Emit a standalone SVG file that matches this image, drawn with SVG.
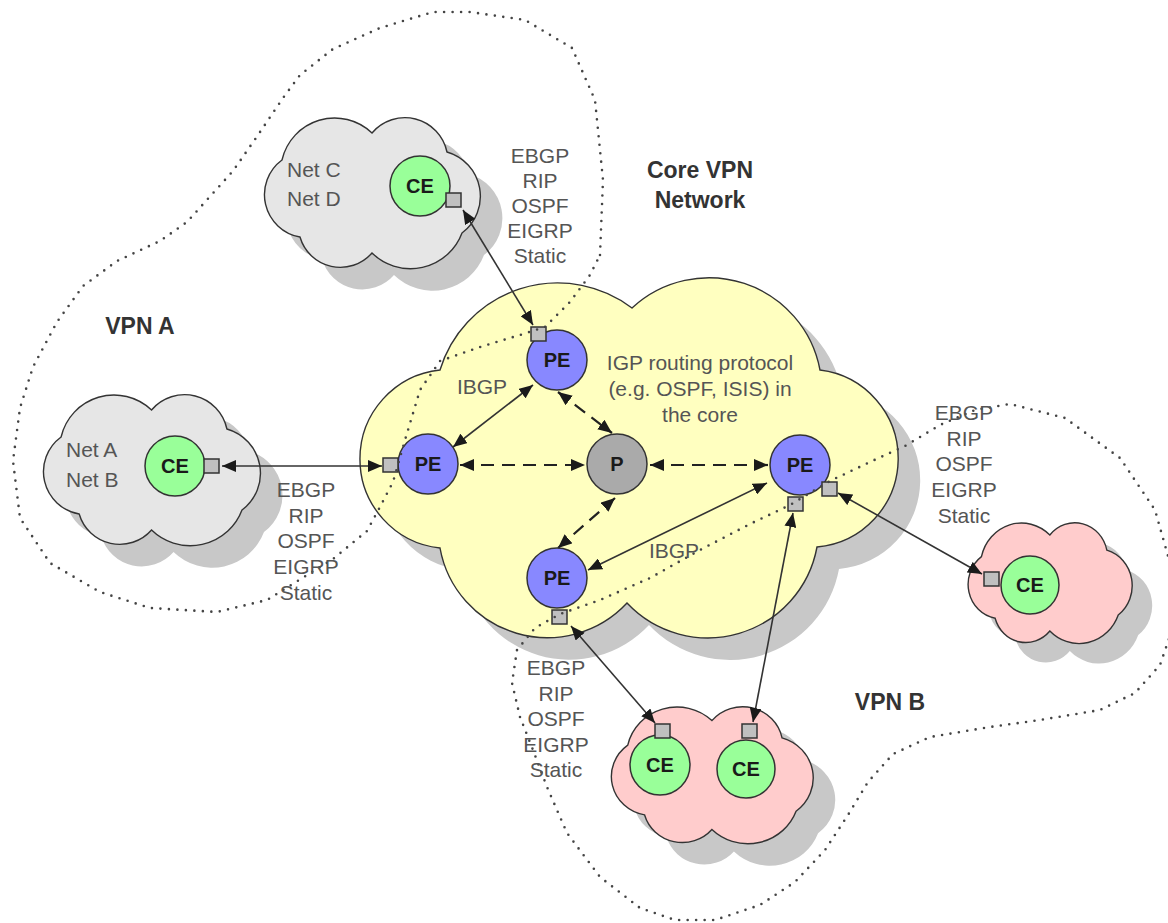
<svg xmlns="http://www.w3.org/2000/svg" xmlns:xlink="http://www.w3.org/1999/xlink" width="1168" height="923" viewBox="0 0 1168 923">
<style>
.shadow{fill:#c8c8c8;stroke:none}
.gray{fill:#e6e6e6;stroke:#333;stroke-width:1.4}
.pink{fill:#ffcccc;stroke:#333;stroke-width:1.4}
.yellow{fill:#ffffc0;stroke:#333;stroke-width:1.4}
.dot{fill:none;stroke:#444;stroke-width:2.6;stroke-linecap:round;stroke-linejoin:round;stroke-dasharray:0 8.5}
.ln{fill:none;stroke:#333;stroke-width:1.6;marker-start:url(#arr);marker-end:url(#arr)}
.dash{fill:none;stroke:#222;stroke-width:2.2;stroke-dasharray:13 8;marker-start:url(#arr);marker-end:url(#arr)}
.ce{fill:#99ff99;stroke:#333;stroke-width:1.5}
.pe{fill:#8888ff;stroke:#333;stroke-width:1.5}
.p{fill:#aaaaaa;stroke:#333;stroke-width:1.5}
.port{fill:#c0c0c0;stroke:#333;stroke-width:1.5}
.nl{font-family:"Liberation Sans",Arial,sans-serif;font-weight:bold;font-size:20px;fill:#1a1a1a;text-anchor:middle}
.lbl{font-family:"Liberation Sans",Arial,sans-serif;font-size:21px;fill:#555;text-anchor:middle}
.lbs{font-family:"Liberation Sans",Arial,sans-serif;font-size:21px;fill:#555}
.hd{font-family:"Liberation Sans",Arial,sans-serif;font-weight:bold;font-size:23px;fill:#333;text-anchor:middle}
</style>
<defs>
<path id="cloud" vector-effect="non-scaling-stroke" d="M19 42 A54 54 0 0 1 109 15 A43 43 0 0 1 184 34 A46 46 0 0 1 199 115 A55 55 0 0 1 109 135 A42 42 0 0 1 37 119 A43 43 0 0 1 19 42 Z"/>
<path id="core" d="M440 548 A89.5 89.5 0 0 1 440 370 A123 123 0 0 1 632 308 A113 113 0 0 1 820 370 A89 89 0 0 1 817 547 A111 111 0 0 1 627 603 A109 109 0 0 1 440 548 Z"/>
<marker id="arr" viewBox="0 0 14 12" refX="14" refY="6" markerWidth="14" markerHeight="12" markerUnits="userSpaceOnUse" orient="auto-start-reverse">
<path d="M0,0 L14,6 L0,12 z" fill="#1a1a1a"/>
</marker>
</defs>
<rect width="1168" height="923" fill="#ffffff"/>

<g id="clouds">
<use xlink:href="#cloud" class="shadow" transform="translate(285,140)"/>
<use xlink:href="#cloud" class="shadow" transform="translate(64,417) scale(1.005,1)"/>
<use xlink:href="#cloud" class="shadow" transform="translate(987,543) scale(0.76,0.8)"/>
<use xlink:href="#cloud" class="shadow" transform="translate(632,729) scale(0.935,0.907)"/>
<use xlink:href="#core" class="shadow" transform="translate(22,22)"/>
<use xlink:href="#cloud" class="gray" transform="translate(263,118)"/>
<use xlink:href="#cloud" class="gray" transform="translate(42,395) scale(1.005,1)"/>
<use xlink:href="#cloud" class="pink" transform="translate(967,523) scale(0.76,0.8)"/>
<use xlink:href="#cloud" class="pink" transform="translate(610,707) scale(0.935,0.907)"/>
<use xlink:href="#core" class="yellow"/>
</g>

<g id="connectors">
<path class="ln" d="M463,210 L533,325"/>
<path class="ln" d="M222,466 L382,466"/>
<path class="ln" d="M533,385 L453,447"/>
<path class="dash" d="M558,392 L612,433"/>
<path class="dash" d="M460,465 L585,465"/>
<path class="dash" d="M650,465 L768,465"/>
<path class="dash" d="M615,498 L558,548"/>
<path class="ln" d="M588,570 L767,483"/>
<path class="ln" d="M571,626 L655,723"/>
<path class="ln" d="M793,513 L753,722"/>
<path class="ln" d="M838,493 L982,574"/>
</g>

<g id="pe-top"><circle class="pe" cx="557" cy="360" r="30"/><rect class="port" x="531" y="327" width="15" height="14"/><text class="nl" x="557" y="367">PE</text></g>
<g id="pe-left"><circle class="pe" cx="428" cy="464" r="30"/><rect class="port" x="383" y="458" width="15" height="14"/><text class="nl" x="428" y="471">PE</text></g>
<g id="p-core"><circle class="p" cx="617" cy="464" r="30"/><text class="nl" x="617" y="471">P</text></g>
<g id="pe-right"><circle class="pe" cx="800" cy="465" r="30"/><rect class="port" x="788" y="497" width="15" height="14"/><rect class="port" x="822" y="482" width="15" height="14"/><text class="nl" x="800" y="472">PE</text></g>
<g id="pe-bottom"><circle class="pe" cx="557" cy="578" r="30"/><rect class="port" x="552" y="610" width="15" height="14"/><text class="nl" x="557" y="585">PE</text></g>
<g id="ce-top"><circle class="ce" cx="420" cy="186" r="30"/><rect class="port" x="446" y="193" width="15" height="14"/><text class="nl" x="420" y="193">CE</text></g>
<g id="ce-left"><circle class="ce" cx="175" cy="466" r="30"/><rect class="port" x="204" y="459" width="15" height="14"/><text class="nl" x="175" y="473">CE</text></g>
<g id="ce-right"><circle class="ce" cx="1030" cy="585" r="29"/><rect class="port" x="984" y="572" width="15" height="14"/><text class="nl" x="1030" y="592">CE</text></g>
<g id="ce-bottom-left"><circle class="ce" cx="660" cy="765" r="30"/><rect class="port" x="655" y="724" width="15" height="14"/><text class="nl" x="660" y="772">CE</text></g>
<g id="ce-bottom-right"><circle class="ce" cx="746" cy="769" r="29"/><rect class="port" x="742" y="724" width="15" height="14"/><text class="nl" x="746" y="776">CE</text></g>

<g id="vpn-boundaries">
<path id="vpn-a" class="dot" d="M600,255 L603,180 L595,100 L572,48 L525,20 L470,12 L433,12 L380,28 L333,49 L300,75 L283,98 L258,135 L233,171 L187,222 L160,241 L117,261 L83,286 L57,322 L33,367 L20,408 L13,461 L20,518 L50,563 L100,592 L150,608 L217,612 L267,600 L333,559 L367,531 L380,507 L393,482 L405,440 L420,390 L440,361 L480,347 L520,335 L545,327 L570,302 L590,275 Z"/>
<path id="vpn-b" class="dot" d="M517,650 L535,628 L560,614 L600,600 L650,578 L700,550 L750,524 L790,505 L830,481 L870,462 L905,446 L940,425 L975,410 L1010,404 L1065,418 L1120,458 L1155,510 L1172,570 L1172,630 L1160,665 L1135,693 L1100,710 L1040,720 L990,727 L930,737 L893,754 L868,782 L848,815 L825,850 L795,882 L760,905 L715,920 L675,920 L640,908 L600,877 L567,833 L547,787 L533,750 L520,717 L512,683 Z"/>
</g>

<g id="labels">
<text class="lbs" x="287" y="177">Net C</text>
<text class="lbs" x="287" y="206">Net D</text>
<text class="lbs" x="66" y="457">Net A</text>
<text class="lbs" x="66" y="487">Net B</text>
<text class="lbl" x="540" y="163">EBGP</text>
<text class="lbl" x="540" y="188">RIP</text>
<text class="lbl" x="540" y="213">OSPF</text>
<text class="lbl" x="540" y="238">EIGRP</text>
<text class="lbl" x="540" y="263">Static</text>
<text class="lbl" x="306" y="497">EBGP</text>
<text class="lbl" x="306" y="523">RIP</text>
<text class="lbl" x="306" y="548">OSPF</text>
<text class="lbl" x="306" y="574">EIGRP</text>
<text class="lbl" x="306" y="600">Static</text>
<text class="lbl" x="964" y="420">EBGP</text>
<text class="lbl" x="964" y="446">RIP</text>
<text class="lbl" x="964" y="471">OSPF</text>
<text class="lbl" x="964" y="497">EIGRP</text>
<text class="lbl" x="964" y="523">Static</text>
<text class="lbl" x="556" y="675">EBGP</text>
<text class="lbl" x="556" y="701">RIP</text>
<text class="lbl" x="556" y="726">OSPF</text>
<text class="lbl" x="556" y="752">EIGRP</text>
<text class="lbl" x="556" y="777">Static</text>
<text class="lbl" x="700" y="370">IGP routing protocol</text>
<text class="lbl" x="700" y="396">(e.g. OSPF, ISIS) in</text>
<text class="lbl" x="700" y="422">the core</text>
<text class="lbl" x="482" y="394">IBGP</text>
<text class="lbl" x="674" y="558">IBGP</text>
<text class="hd" x="140" y="334">VPN A</text>
<text class="hd" x="890" y="710">VPN B</text>
<text class="hd" x="700" y="178">Core VPN</text>
<text class="hd" x="700" y="208">Network</text>
</g>
</svg>
